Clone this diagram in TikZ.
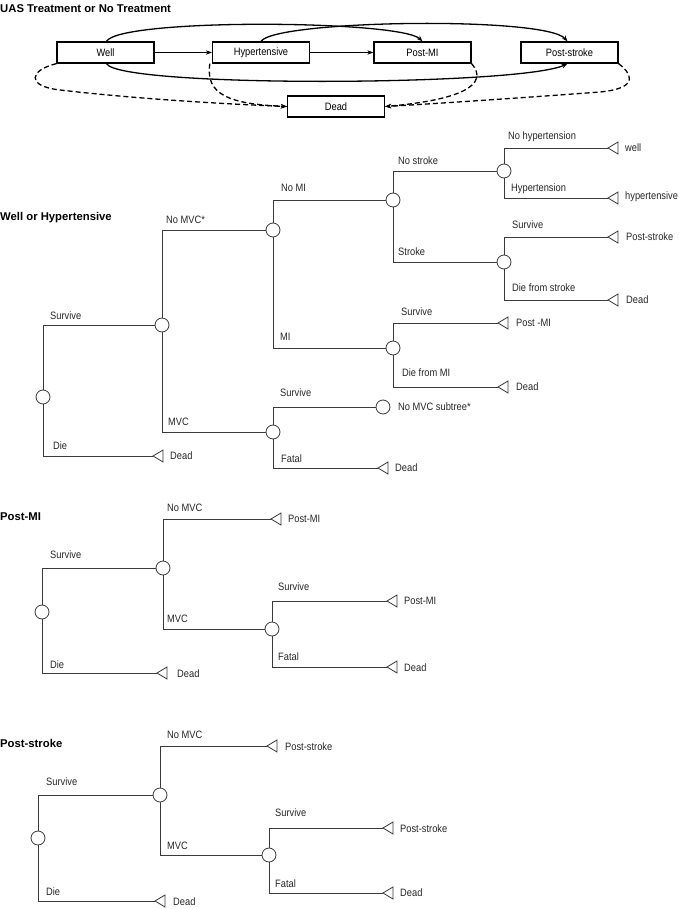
\documentclass[tikz,border=0pt]{standalone}
\usepackage{fontspec}
\setmainfont{Liberation Sans}
\newfontfamily\labfont{Liberation Sans}[FakeStretch=0.87]
\usetikzlibrary{arrows.meta}
\definecolor{lineg}{HTML}{3A3A3A}
\begin{document}
\begin{tikzpicture}[x=1pt,y=-1pt,
  stbox/.style={draw=black,line width=1.3pt,minimum width=97pt,minimum height=21pt,inner sep=0pt,font=\labfont\fontsize{10.7}{12}\selectfont},
  ttl/.style={anchor=west,inner sep=0pt,font=\bfseries\fontsize{11.3}{13}\selectfont},
  lbl/.style={anchor=west,inner sep=0pt,font=\labfont\fontsize{10.7}{12}\selectfont,text=black!85},
  chance/.style={circle,draw=lineg,line width=0.8pt,minimum size=14pt,inner sep=0pt,fill=white},
  br/.style={draw=lineg,line width=0.8pt},
  term/.style={draw=lineg,line width=0.8pt,fill=white},
  arr/.style={-{Stealth[length=6pt,width=4.5pt]},line width=1.3pt},
  darr/.style={-{Stealth[length=6pt,width=4.5pt]},line width=1.3pt,dash pattern=on 5pt off 3pt}
]
\useasboundingbox (0,0) rectangle (678,909);

% ---------------- state diagram ----------------
\node[ttl] (T0) at (0,9) {UAS Treatment or No Treatment};
\node[stbox] (W) at (105.5,52.5) {Well};
\node[stbox] (H) at (261,52.5) {Hypertensive};
\node[stbox] (M) at (422.5,52.5) {Post-MI};
\node[stbox] (S) at (569.5,52.5) {Post-stroke};
\node[stbox] (D) at (336,106.5) {Dead};

\draw[arr] (W) -- (H);
\draw[arr,line width=0.7pt] (H) -- (M);
\draw[arr] ([xshift=1pt]W.north) .. controls (120,18) and (400,20) .. (M.north);
\draw[arr] (H.north) .. controls (275,20) and (545,16) .. ([xshift=-2pt]S.north);
\draw[arr] ([xshift=1pt]W.south) .. controls (120,88) and (520,86) .. ([xshift=-2pt]S.south);
\draw[darr] (W.south west) .. controls (30,70) and (25,86) .. (60,90) .. controls (120,97) and (200,103) .. (D.west);
\draw[darr] ([xshift=-2pt]H.south west) .. controls (205,95) and (230,104) .. (D.west);
\draw[darr] (M.south east) .. controls (490,85) and (460,100) .. (D.east);
\draw[darr] (S.south east) .. controls (630,72) and (642,88) .. (600,92) .. controls (520,98) and (430,104) .. (D.east);

% ---------------- Well or Hypertensive ----------------
\node[ttl] (T1) at (0,218) {Well or Hypertensive};
\node[chance] (r1) at (43,397) {};
\node[chance] (a1) at (162,325) {};
\node[chance] (b1) at (273,230) {};
\node[chance] (c1) at (273,432) {};
\node[chance] (e1) at (393,200) {};
\node[chance] (f1) at (393,348) {};
\node[chance] (g1) at (504,171) {};
\node[chance] (h1) at (504,262) {};
\node[chance] (k1) at (383,407) {};
\coordinate (d1) at (153,456);
\coordinate (tg1) at (608,148);
\coordinate (tg2) at (608,198);
\coordinate (th1) at (608,237);
\coordinate (th2) at (608,300);
\coordinate (tf1) at (498,323);
\coordinate (tf2) at (498,387);
\coordinate (tc2) at (378,468);

\draw[br] (r1) |- (a1);
\draw[br] (r1) |- (d1);
\draw[br] (a1) |- (b1);
\draw[br] (a1) |- (c1);
\draw[br] (b1) |- (e1);
\draw[br] (b1) |- (f1);
\draw[br] (e1) |- (g1);
\draw[br] (e1) |- (h1);
\draw[br] (g1) |- (tg1);
\draw[br] (g1) |- (tg2);
\draw[br] (h1) |- (th1);
\draw[br] (h1) |- (th2);
\draw[br] (f1) |- (tf1);
\draw[br] (f1) |- (tf2);
\draw[br] (c1) |- (k1);
\draw[br] (c1) |- (tc2);
\foreach \t in {d1,tg1,tg2,th1,th2,tf1,tf2,tc2}
  \draw[term] (\t) -- ++(10,-6) -- ++(0,12) -- cycle;

\node[lbl] (l1) at (50,316) {Survive};
\node[lbl] (l2) at (53,446) {Die};
\node[lbl] (l3) at (166,220) {No MVC*};
\node[lbl] (l4) at (168,422) {MVC};
\node[lbl] (l5) at (281,188) {No MI};
\node[lbl] (l6) at (280,337) {MI};
\node[lbl] (l7) at (398,161) {No stroke};
\node[lbl] (l8) at (398,252) {Stroke};
\node[lbl] (l9) at (508,137) {No hypertension};
\node[lbl] (l10) at (511,189) {Hypertension};
\node[lbl] (l11) at (512,225) {Survive};
\node[lbl] (l12) at (512,288) {Die from stroke};
\node[lbl] (l13) at (401,312) {Survive};
\node[lbl] (l14) at (402,373) {Die from MI};
\node[lbl] (l15) at (280,393) {Survive};
\node[lbl] (l16) at (281,459) {Fatal};
\node[lbl] (o1) at (170,456) {Dead};
\node[lbl] (o2) at (625,148) {well};
\node[lbl] (o3) at (625,197) {hypertensive};
\node[lbl] (o4) at (626,237) {Post-stroke};
\node[lbl] (o5) at (626,300) {Dead};
\node[lbl] (o6) at (516,323) {Post -MI};
\node[lbl] (o7) at (516,387) {Dead};
\node[lbl] (o8) at (398,407) {No MVC subtree*};
\node[lbl] (o9) at (395,468) {Dead};

% ---------------- Post-MI ----------------
\node[ttl] (T2) at (0,517) {Post-MI};
\node[chance] (r2) at (42,612) {};
\node[chance] (a2) at (163,568) {};
\node[chance] (c2) at (272,629) {};
\coordinate (d2) at (157,673);
\coordinate (ta2) at (271,519);
\coordinate (tc21) at (387,601);
\coordinate (tc22) at (387,667);
\draw[br] (r2) |- (a2);
\draw[br] (r2) |- (d2);
\draw[br] (a2) |- (ta2);
\draw[br] (a2) |- (c2);
\draw[br] (c2) |- (tc21);
\draw[br] (c2) |- (tc22);
\foreach \t in {d2,ta2,tc21,tc22}
  \draw[term] (\t) -- ++(10,-6) -- ++(0,12) -- cycle;
\node[lbl] (m1) at (50,555) {Survive};
\node[lbl] (m2) at (50,665) {Die};
\node[lbl] (m3) at (167,508) {No MVC};
\node[lbl] (m4) at (167,619) {MVC};
\node[lbl] (m5) at (278,587) {Survive};
\node[lbl] (m6) at (278,657) {Fatal};
\node[lbl] (p1) at (177,674) {Dead};
\node[lbl] (p2) at (288,519) {Post-MI};
\node[lbl] (p3) at (404,601) {Post-MI};
\node[lbl] (p4) at (404,668) {Dead};

% ---------------- Post-stroke ----------------
\node[ttl] (T3) at (0,743) {Post-stroke};
\node[chance] (r3) at (38,838) {};
\node[chance] (a3) at (160,795) {};
\node[chance] (c3) at (269,855) {};
\coordinate (d3) at (155,901);
\coordinate (ta3) at (267,746);
\coordinate (tc31) at (383,828);
\coordinate (tc32) at (383,893);
\draw[br] (r3) |- (a3);
\draw[br] (r3) |- (d3);
\draw[br] (a3) |- (ta3);
\draw[br] (a3) |- (c3);
\draw[br] (c3) |- (tc31);
\draw[br] (c3) |- (tc32);
\foreach \t in {d3,ta3,tc31,tc32}
  \draw[term] (\t) -- ++(10,-6) -- ++(0,12) -- cycle;
\node[lbl] (s1) at (46,782) {Survive};
\node[lbl] (s2) at (46,892) {Die};
\node[lbl] (s3) at (167,735) {No MVC};
\node[lbl] (s4) at (167,846) {MVC};
\node[lbl] (s5) at (275,813) {Survive};
\node[lbl] (s6) at (275,884) {Fatal};
\node[lbl] (q1) at (173,902) {Dead};
\node[lbl] (q2) at (285,747) {Post-stroke};
\node[lbl] (q3) at (400,829) {Post-stroke};
\node[lbl] (q4) at (400,893) {Dead};
\end{tikzpicture}
\end{document}
